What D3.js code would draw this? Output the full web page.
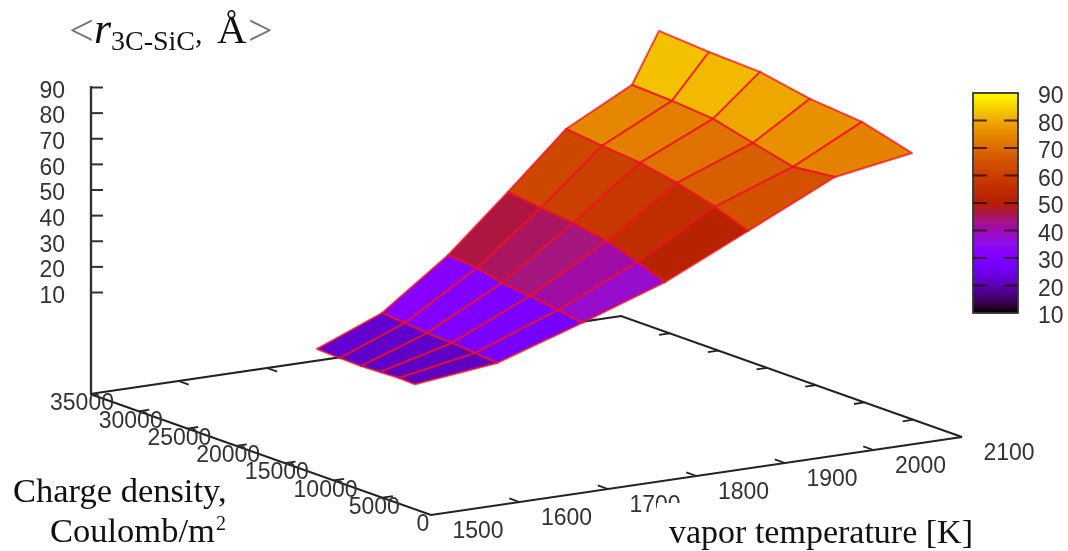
<!DOCTYPE html>
<html>
<head>
<meta charset="utf-8">
<title>3C-SiC radius</title>
<script src="https://cdnjs.cloudflare.com/ajax/libs/d3/7.8.5/d3.min.js"></script>
<style>
  html, body { margin: 0; padding: 0; background: #fff; }
  svg { display: block; }
  .tick-label { font-family: "Liberation Sans", sans-serif; font-size: 23px; fill: #333; }
  .serif { font-family: "Liberation Serif", serif; fill: #111; }
</style>
</head>
<body>
<div id="chart-container"></div>
<script>
// Surface: one row per vapor temperature
const vaporTemps = [1500, 1600, 1700, 1800, 1900, 2000, 2100];

const chargeDensity = [
  [11700, 9340, 7190, 5240, 3280, 1640],
  [14110, 11750, 9490, 6930, 4570, 2310],
  [16420, 13450, 10880, 8010, 5130, 2670],
  [19350, 15960, 12680, 9190, 6000, 3230],
  [22480, 18780, 14880, 11090, 7190, 3800],
  [24790, 20680, 16470, 12370, 8260, 3950],
  [31100, 25970, 20730, 15600, 10260, 5130]
];

const meanRadius = [
  [19.6, 19.2, 19.0, 19.3, 19.6, 19.4],
  [25.3, 24.6, 23.7, 23.3, 22.5, 21.7],
  [39.7, 38.7, 36.3, 35.1, 33.5, 31.8],
  [55.3, 53.6, 52.2, 49.9, 46.0, 41.9],
  [70.6, 69.0, 67.6, 64.9, 60.8, 56.0],
  [79.6, 78.9, 77.6, 73.7, 69.9, 71.8],
  [87.1, 85.8, 85.1, 81.5, 79.7, 74.5]
];

// Tick labels
const tempTicks = [1500, 1600, 1700, 1800, 1900, 2000, 2100];
const chargeTicks = [0, 5000, 10000, 15000, 20000, 25000, 30000, 35000];
const radiusTicks = [10, 20, 30, 40, 50, 60, 70, 80, 90];

const width = 1068;
const height = 551;

// Oblique projection of the gnuplot box, one scale per screen direction
const tempX = d3.scaleLinear().domain([1500, 2100]).range([431, 962]);
const tempY = d3.scaleLinear().domain([1500, 2100]).range([515, 437]);
const chargeX = d3.scaleLinear().domain([0, 35000]).range([0, -341]);
const chargeY = d3.scaleLinear().domain([0, 35000]).range([0, -121]);
const zScale = d3.scaleLinear().domain([10, 90]).range([292, 87]);
const barScale = d3.scaleLinear().domain([10, 90]).range([313, 93]);
const zFloor = 393;

const px = (t, q) => tempX(t) + chargeX(q);
const py = (t, q, z) => tempY(t) + chargeY(q) - (z === undefined ? 0 : zFloor - zScale(z));

// gnuplot default pm3d palette (rgbformulae 7,5,15)
function palette(z) {
  const v = Math.max(0, Math.min(1, (z - 10) / 80));
  const b = Math.max(0, Math.sin(2 * Math.PI * v));
  return d3.rgb(255 * Math.sqrt(v), 255 * v * v * v, 255 * b).formatHex();
}

const svg = d3.select("#chart-container")
  .append("svg")
  .attr("width", width)
  .attr("height", height);

const defs = svg.append("defs");

const blur = defs.append("filter")
  .attr("id", "soft")
  .attr("filterUnits", "userSpaceOnUse")
  .attr("x", 0).attr("y", 0)
  .attr("width", width).attr("height", height);
blur.append("feGaussianBlur").attr("stdDeviation", 0.7);

const barGradient = defs.append("linearGradient")
  .attr("id", "bar-gradient")
  .attr("x1", 0).attr("y1", 1)
  .attr("x2", 0).attr("y2", 0);
barGradient.selectAll("stop")
  .data(d3.range(10, 91, 2))
  .join("stop")
  .attr("offset", d => (d - 10) / 80)
  .attr("stop-color", d => palette(d));

const plot = svg.append("g").attr("filter", "url(#soft)");

// Base box: the four border lines
const border = [[1500, 35000], [1500, 0], [2100, 0], [2100, 35000], [1500, 35000]];
plot.append("path")
  .attr("d", d3.line().x(d => px(d[0], d[1])).y(d => py(d[0], d[1]))(border))
  .attr("fill", "none")
  .attr("stroke", "#222")
  .attr("stroke-width", 2);

// Ticks on the floor, mirrored on the far sides
const tickLen = 0.03;
const addFloorTick = (t0, q0, t1, q1) => {
  plot.append("line")
    .attr("x1", px(t0, q0)).attr("y1", py(t0, q0))
    .attr("x2", px(t1, q1)).attr("y2", py(t1, q1))
    .attr("stroke", "#222")
    .attr("stroke-width", 1.8);
};
tempTicks.slice(1, -1).forEach(t => {
  addFloorTick(t, 0, t, 35000 * tickLen);
  addFloorTick(t, 35000, t, 35000 * (1 - tickLen));
});
chargeTicks.slice(1, -1).forEach(q => {
  addFloorTick(1500, q, 1500 + 600 * 0.02, q);
  addFloorTick(2100, q, 2100 - 600 * 0.02, q);
});

// Z axis
const zAxis = plot.append("g")
  .attr("transform", "translate(91,0)")
  .call(d3.axisLeft(zScale).tickValues(radiusTicks).tickSize(-12).tickSizeOuter(0).tickPadding(26));
zAxis.select(".domain").remove();
zAxis.selectAll(".tick line").attr("stroke", "#333").attr("stroke-width", 2);
zAxis.selectAll(".tick text")
  .attr("class", "tick-label")
  .attr("dy", "0.36em")
  .attr("transform", "translate(0,2)");
plot.append("line")
  .attr("x1", 91).attr("x2", 91)
  .attr("y1", zScale(90) - 1).attr("y2", zFloor)
  .attr("stroke", "#333")
  .attr("stroke-width", 2.4);

// Surface, far cells first
const cellPath = d3.line().curve(d3.curveLinearClosed);
const cells = [];
for (let i = vaporTemps.length - 2; i >= 0; i--) {
  for (let j = 0; j < chargeDensity[i].length - 1; j++) {
    const corners = [[i, j], [i, j + 1], [i + 1, j + 1], [i + 1, j]];
    cells.push({
      points: corners.map(([a, b]) => [
        px(vaporTemps[a], chargeDensity[a][b]),
        py(vaporTemps[a], chargeDensity[a][b], meanRadius[a][b])
      ]),
      z: d3.mean(corners, ([a, b]) => meanRadius[a][b])
    });
  }
}

plot.append("g")
  .selectAll("path")
  .data(cells)
  .join("path")
  .attr("d", d => cellPath(d.points))
  .attr("fill", d => palette(d.z))
  .attr("stroke", "#f01020")
  .attr("stroke-opacity", 0.75)
  .attr("stroke-width", 2)
  .attr("stroke-linejoin", "round");

// Floor tick labels
plot.append("g")
  .selectAll("text")
  .data(chargeTicks)
  .join("text")
  .attr("class", "tick-label")
  .attr("x", d => px(1500, d) - 8)
  .attr("y", d => py(1500, d) + 8)
  .attr("dy", "0.36em")
  .attr("text-anchor", "middle")
  .text(d => d);

plot.append("g")
  .selectAll("text")
  .data(tempTicks)
  .join("text")
  .attr("class", "tick-label")
  .attr("x", d => px(d, 0) + 47)
  .attr("y", d => py(d, 0) + 15)
  .attr("dy", "0.36em")
  .attr("text-anchor", "middle")
  .text(d => d);

// Colour bar
const barX = 973;
const barW = 45;
plot.append("rect")
  .attr("x", barX).attr("y", barScale(90))
  .attr("width", barW).attr("height", barScale(10) - barScale(90))
  .attr("fill", "url(#bar-gradient)")
  .attr("stroke", "#333")
  .attr("stroke-width", 1.8);

const barTicks = plot.append("g")
  .selectAll("g")
  .data(radiusTicks.slice(1, -1))
  .join("g");
[[barX, barX + 14], [barX + barW - 14, barX + barW]].forEach(([a, b]) => {
  barTicks.append("line")
    .attr("x1", a).attr("x2", b)
    .attr("y1", d => barScale(d)).attr("y2", d => barScale(d))
    .attr("stroke", "#2a0808")
    .attr("stroke-opacity", 0.8)
    .attr("stroke-width", 2);
});

plot.append("g")
  .selectAll("text")
  .data(radiusTicks)
  .join("text")
  .attr("class", "tick-label")
  .attr("x", 1038)
  .attr("y", d => barScale(d) + 2)
  .attr("dy", "0.36em")
  .text(d => d);

// Pasted axis captions, the white patch cuts the 1700 label like in the source
svg.append("rect")
  .attr("x", 657).attr("y", 503)
  .attr("width", 340).attr("height", 48)
  .attr("fill", "#fff");

const label = (x, y, size, text, opts = {}) => svg.append("text")
  .attr("class", "serif")
  .attr("x", x)
  .attr("y", y)
  .attr("font-size", size)
  .attr("font-style", opts.italic ? "italic" : null)
  .style("fill", opts.fill || null)
  .text(text);

label(13, 502, 34.5, "Charge density,");
label(50, 542, 34.5, "Coulomb/m");
label(216, 530, 20, "2");
label(669, 543, 34, "vapor temperature [K]");

label(69, 45, 44, "<", { fill: "#777" });
label(94, 43, 44, "r", { italic: true });
label(111, 50, 28, "3C-SiC");
label(195, 43, 30, ",");
label(217, 43, 41, "Å");
label(248, 45, 44, ">", { fill: "#777" });
</script>
</body>
</html>
